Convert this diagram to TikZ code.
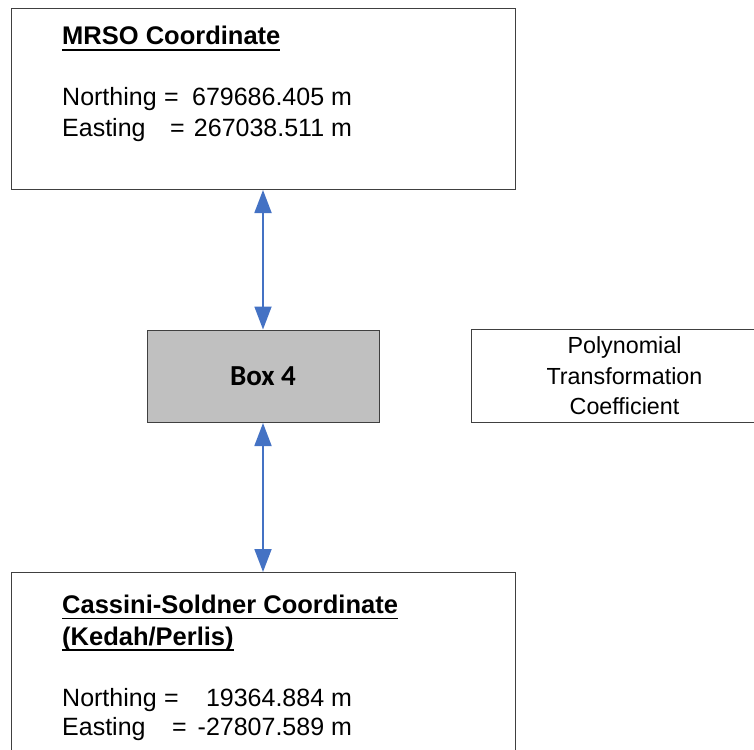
\documentclass[tikz,border=0pt]{standalone}
\usepackage{fontspec}
\setmainfont{Liberation Sans}
\newfontfamily\boxfont{Carlito}
\usetikzlibrary{arrows.meta}

\definecolor{linkblue}{HTML}{4472C4}
\definecolor{boxgray}{HTML}{C0C0C0}
\definecolor{edgegray}{HTML}{404040}

% heavy underline set a fixed distance below the baseline
\newcommand\ulin[1]{\setbox0\hbox{#1}\rlap{\rule[-6pt]{\wd0}{1.8pt}}\box0}
% label, position of "=", value set flush right in a fixed column
\newcommand\eqline[3]{\hbox to 262pt{\makebox[#2][l]{#1}=\hfill #3}\ m}

\begin{document}
\begin{tikzpicture}[x=1pt,y=-1pt,
  frame/.style={draw=edgegray, line width=1pt, rectangle, inner sep=0pt, anchor=north west},
  valtext/.style={inner sep=0pt, anchor=base west, font=\fontsize{25}{30.5}\selectfont},
  titletext/.style={inner sep=0pt, anchor=base west, font=\fontsize{25.5}{31}\selectfont\bfseries},
  link/.style={draw=linkblue, line width=1.8pt,
    {Triangle[width=17pt,length=23pt]}-{Triangle[width=17pt,length=23pt]}}]
\useasboundingbox (0,0) rectangle (754,749);

% outer frames
\node[frame, minimum width=504pt, minimum height=181pt] (mrso) at (10.5,8) {};
\node[frame, fill=boxgray, minimum width=232pt, minimum height=92.5pt,
      font=\boxfont\bfseries\fontsize{29}{33}\selectfont] (box4) at (146.5,329.5) {Box 4};
\node[frame, minimum width=306pt, minimum height=93.5pt, align=center,
      font=\fontsize{23.3}{30.5}\selectfont] (poly) at (471,328.5)
      {Polynomial\\Transformation\\Coefficient};
\node[frame, minimum width=504pt, minimum height=200pt] (cassini) at (10.5,572) {};

% MRSO coordinate text
\node[titletext] (mrsotitle) at (62,45) {\ulin{MRSO Coordinate}};
\node[valtext] (mrsonorth) at (62,106) {\eqline{Northing}{102pt}{679686.405}};
\node[valtext] (mrsoeast) at (62,136) {\eqline{Easting}{108pt}{267038.511}};

% Cassini-Soldner coordinate text
\node[titletext] (cstitle) at (62,613.3) {\ulin{Cassini-Soldner Coordinate}};
\node[titletext] (cssub) at (62,645) {\ulin{(Kedah/Perlis)}};
\node[valtext] (csnorth) at (62,706) {\eqline{Northing}{102pt}{19364.884}};
\node[valtext] (cseast) at (62,735.7) {\eqline{Easting}{110pt}{-27807.589}};

% two-way links
\draw[link] (mrso.south -| box4.north) -- (box4.north);
\draw[link] (box4.south) -- (box4.south |- cassini.north);
\end{tikzpicture}
\end{document}
